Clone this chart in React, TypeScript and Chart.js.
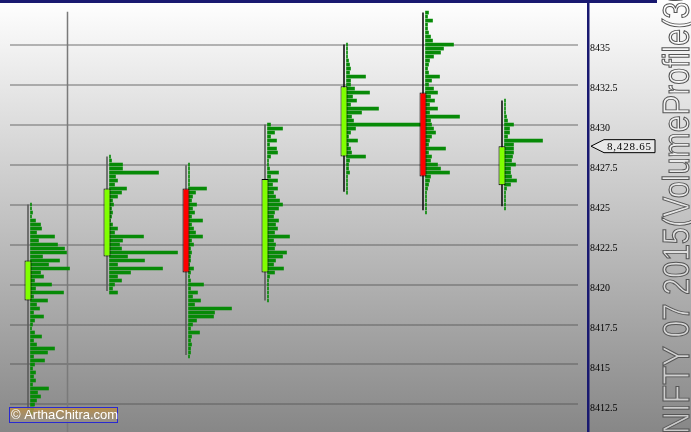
import React, { useEffect, useRef } from 'react';
import { Chart, registerables } from 'chart.js';

Chart.register(...registerables);

// ---------- data ----------
const SESSIONS = [0, 1, 2, 3, 4, 5, 6];
const OPEN = [8419.0, 8421.75, 8426.0, 8420.75, 8428.0, 8432.0, 8426.2];
const HIGH = [8425.0, 8428.0, 8427.45, 8430.0, 8435.0, 8437.0, 8431.5];
const LOW = [8411.8, 8419.6, 8415.6, 8419.0, 8425.8, 8424.65, 8424.9];
const CLOSE = [8421.5, 8426.0, 8420.75, 8426.6, 8432.4, 8426.75, 8428.65];

const PRICE_STEP = 0.25;
const PROFILE_TOP = [8425, 8428, 8427.5, 8430, 8435, 8437, 8431.5];
const PROFILE_1 = [1, 1, 2, 1, 5, 10, 11, 6, 24, 8, 27, 34, 36, 12, 29, 18, 39, 10, 13, 4, 21, 5, 33, 3, 17, 6, 9, 3, 13, 4, 2, 1, 4, 11, 3, 6, 24, 17, 3, 14, 4, 2, 5, 3, 5, 2, 18, 7, 10, 6, 4, 3, 2];
const PROFILE_2 = [1, 2, 13, 13, 49, 6, 8, 5, 17, 12, 8, 3, 4, 2, 3, 2, 1, 3, 8, 5, 34, 13, 10, 12, 68, 18, 35, 8, 53, 21, 8, 12, 5, 3, 8];
const PROFILE_3 = [1, 1, 1, 1, 1, 1, 18, 7, 4, 3, 8, 4, 6, 3, 14, 3, 5, 7, 14, 3, 5, 2, 3, 2, 2, 1, 5, 2, 1, 2, 15, 2, 9, 4, 12, 6, 43, 26, 25, 8, 4, 2, 11, 3, 2, 3, 2, 2, 1];
const PROFILE_4 = [3, 15, 7, 3, 9, 2, 9, 10, 3, 1, 1, 2, 11, 3, 10, 5, 10, 6, 8, 12, 15, 11, 7, 6, 11, 8, 10, 7, 22, 6, 8, 7, 19, 15, 8, 6, 16, 7, 2, 1, 1, 1, 1, 1, 1];
const PROFILE_5 = [1, 1, 1, 1, 2, 3, 4, 3, 19, 4, 4, 8, 23, 6, 10, 4, 32, 15, 5, 7, 74, 9, 4, 2, 11, 2, 4, 5, 19, 3, 2, 2, 3, 1, 1, 1, 1, 1];
const PROFILE_6 = [3, 2, 7, 2, 2, 3, 5, 7, 28, 18, 15, 8, 4, 3, 2, 3, 14, 6, 3, 8, 12, 5, 9, 4, 12, 4, 34, 5, 6, 8, 10, 6, 4, 3, 20, 3, 6, 5, 12, 15, 24, 5, 4, 3, 2, 1, 1, 1, 1, 1, 1];
const PROFILE_7 = [1, 1, 1, 1, 2, 3, 9, 5, 5, 3, 38, 9, 9, 9, 8, 7, 11, 6, 6, 7, 12, 6, 2, 1, 1, 1, 1, 1];
const PROFILES = [PROFILE_1, PROFILE_2, PROFILE_3, PROFILE_4, PROFILE_5, PROFILE_6, PROFILE_7];

const Y_TICKS = [8412.5, 8415, 8417.5, 8420, 8422.5, 8425, 8427.5, 8430, 8432.5, 8435];
const DAY_BREAKS = [0.5];
const LAST_PRICE = 8428.65;
const TITLE = 'NIFTY 07 2015(VolumeProfile(30))';
const WATERMARK = '\u00A9 ArthaChitra.com';

// ---------- scale / style constants ----------
const Y_MIN = 8410.78;
const Y_MAX = 8437.6;
const X_MIN = -18 / 79;
const X_MAX = 550 / 79;
const VOL_PER_SESSION = 79; // volume units spanning one session slot
const PROFILE_GAP = 2.5 / 79;

const bodyData = SESSIONS.map((i) => ({ x: i, y: [OPEN[i], CLOSE[i]] }));
const wickData = SESSIONS.map((i) => ({ x: i, y: [LOW[i], HIGH[i]] }));
const profileData: any[] = [];
PROFILES.forEach((vols, s) => {
  vols.forEach((v, j) => {
    profileData.push({
      y: PROFILE_TOP[s] - j * PRICE_STEP,
      x: [s + PROFILE_GAP, s + PROFILE_GAP + v / VOL_PER_SESSION],
    });
  });
});
const breakDatasets = DAY_BREAKS.map((b) => ({
  type: 'line' as const,
  data: [
    { x: b, y: 8437.05 },
    { x: b, y: Y_MIN },
  ],
  borderColor: '#7a7a7a',
  borderWidth: 1.5,
  pointRadius: 0,
  xAxisID: 'x',
  yAxisID: 'y',
  order: 3,
}));

const zeroPad = (scale: any) => {
  scale.paddingTop = 0;
  scale.paddingBottom = 0;
  scale.paddingLeft = 0;
  scale.paddingRight = 0;
};

const decor = {
  id: 'decor',
  beforeDraw(chart: any) {
    const { ctx, width, height } = chart;
    ctx.save();
    const g = ctx.createLinearGradient(0, 0, 0, height);
    g.addColorStop(0, '#ffffff');
    g.addColorStop(1, '#878787');
    ctx.fillStyle = g;
    ctx.fillRect(0, 0, width, height);
    ctx.restore();
  },
  afterDraw(chart: any) {
    const { ctx, chartArea, scales, height } = chart;
    ctx.save();
    // frame
    ctx.fillStyle = '#191970';
    ctx.fillRect(0, 0, 657, 3);
    const bx = chartArea.right + 10;
    ctx.fillRect(bx - 1, 0, 2.5, height);

    // last price marker
    const py = scales.y.getPixelForValue(LAST_PRICE);
    const tip = bx + 3;
    ctx.beginPath();
    ctx.moveTo(tip, py);
    ctx.lineTo(tip + 13, py - 6.5);
    ctx.lineTo(tip + 64, py - 6.5);
    ctx.lineTo(tip + 64, py + 6.5);
    ctx.lineTo(tip + 13, py + 6.5);
    ctx.closePath();
    ctx.fillStyle = 'rgba(245,245,245,0.6)';
    ctx.fill();
    ctx.strokeStyle = '#000';
    ctx.lineWidth = 1;
    ctx.stroke();
    ctx.fillStyle = '#000';
    ctx.font = '11px "Liberation Serif"';
    try { (ctx as any).letterSpacing = '0.8px'; } catch (e) {}
    ctx.textBaseline = 'middle';
    ctx.textAlign = 'left';
    const label = LAST_PRICE.toLocaleString('en-US', { minimumFractionDigits: 2 });
    ctx.fillText(label, tip + 16, py + 0.5);
    try { (ctx as any).letterSpacing = '0px'; } catch (e) {}

    // watermark
    const wx = 9, wy = 407, ww = 108, wh = 15;
    const wg = ctx.createLinearGradient(0, wy, 0, wy + wh);
    wg.addColorStop(0, 'rgba(190,140,60,0.85)');
    wg.addColorStop(1, 'rgba(150,145,135,0.75)');
    ctx.fillStyle = wg;
    ctx.fillRect(wx, wy, ww, wh);
    ctx.strokeStyle = '#2a2ad0';
    ctx.lineWidth = 1;
    ctx.strokeRect(wx + 0.5, wy + 0.5, ww, wh);
    ctx.fillStyle = '#ffffff';
    ctx.font = '13px "Liberation Sans"';
    ctx.textBaseline = 'middle';
    ctx.fillText(WATERMARK, wx + 2, wy + wh / 2 + 1);

    // vertical title
    ctx.translate(689, 434);
    ctx.rotate(-Math.PI / 2);
    ctx.scale(1, 1.2);
    ctx.font = '30.5px "Liberation Sans"';
    ctx.textBaseline = 'alphabetic';
    ctx.textAlign = 'left';
    ctx.fillStyle = 'rgba(255,255,255,0.55)';
    ctx.fillText(TITLE, 0, 0);
    ctx.strokeStyle = '#555555';
    ctx.lineWidth = 0.9;
    ctx.strokeText(TITLE, 0, 0);
    ctx.restore();
  },
};

export default function App() {
  const ref = useRef<HTMLCanvasElement>(null);
  useEffect(() => {
    document.body.style.margin = '0';
    const chart = new Chart(ref.current as HTMLCanvasElement, {
      type: 'bar',
      data: {
        datasets: [
          {
            data: bodyData as any,
            backgroundColor: (c: any) => (CLOSE[c.dataIndex] >= OPEN[c.dataIndex] ? '#80ff00' : '#ff0000'),
            borderColor: '#000000',
            borderWidth: 1,
            borderSkipped: false,
            grouped: false,
            maxBarThickness: 7,
            xAxisID: 'x',
            yAxisID: 'y',
            order: 0,
          } as any,
          {
            data: wickData as any,
            backgroundColor: (c: any) => (c.dataIndex < 4 ? '#5a5a5a' : '#111111'),
            borderWidth: 0,
            grouped: false,
            maxBarThickness: 1.6,
            xAxisID: 'x',
            yAxisID: 'y',
            order: 1,
          } as any,
          {
            indexAxis: 'y',
            data: profileData,
            backgroundColor: '#078a07',
            borderWidth: 0,
            grouped: false,
            categoryPercentage: 1,
            barPercentage: 1,
            maxBarThickness: 3,
            xAxisID: 'xp',
            yAxisID: 'yp',
            order: 2,
          } as any,
          ...(breakDatasets as any[]),
        ],
      },
      options: {
        animation: false,
        responsive: false,
        maintainAspectRatio: false,
        devicePixelRatio: 1,
        layout: { padding: { left: 10, right: 0, top: 3, bottom: 0 } },
        plugins: { legend: { display: false }, tooltip: { enabled: false } },
        scales: {
          x: { type: 'linear', axis: 'x', position: 'bottom', display: false, min: X_MIN, max: X_MAX, offset: false, bounds: 'data', afterFit: zeroPad },
          xp: { type: 'linear', axis: 'x', position: 'bottom', display: false, min: X_MIN, max: X_MAX, offset: false, bounds: 'data', afterFit: zeroPad },
          yp: { type: 'linear', axis: 'y', position: 'left', display: false, min: Y_MIN, max: Y_MAX, offset: false, bounds: 'data', afterFit: zeroPad },
          y: {
            type: 'linear',
            axis: 'y',
            position: 'right',
            min: Y_MIN,
            max: Y_MAX,
            offset: false,
            bounds: 'data',
            border: { display: false },
            grid: { color: 'rgba(80,80,80,0.4)', lineWidth: 2, drawTicks: false },
            afterBuildTicks: (scale: any) => {
              scale.ticks = Y_TICKS.map((v) => ({ value: v }));
            },
            afterFit: (scale: any) => {
              scale.width = 113;
              zeroPad(scale);
            },
            ticks: {
              padding: 12,
              labelOffset: 4,
              color: '#000000',
              font: { family: '"Liberation Serif"', size: 10 },
              callback: (v: any) => String(v),
            },
          },
        } as any,
      },
      plugins: [decor],
    } as any);
    return () => chart.destroy();
  }, []);
  return (
    <div style={{ width: 691, height: 432 }}>
      <canvas ref={ref} width={691} height={432} style={{ display: 'block' }} />
    </div>
  );
}
